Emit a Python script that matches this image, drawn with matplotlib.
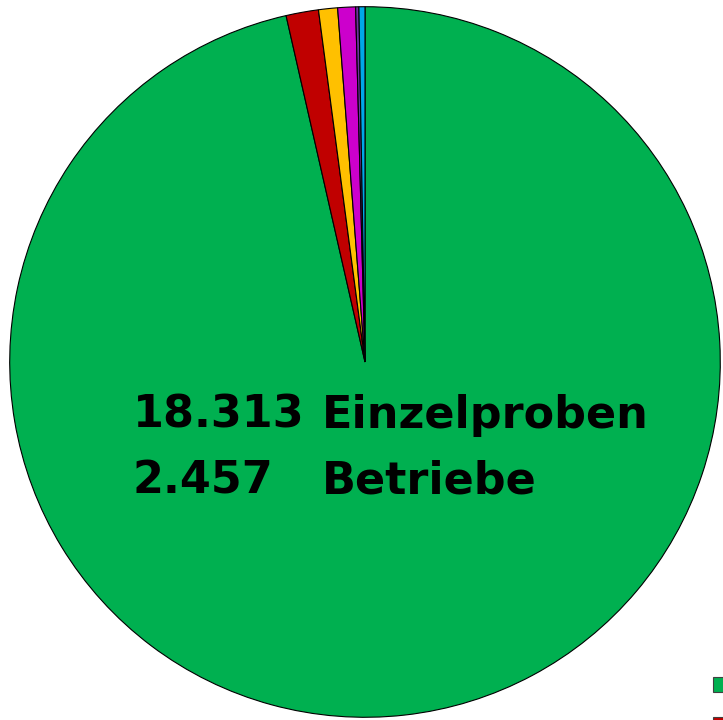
import matplotlib
matplotlib.use('Agg')
import matplotlib.pyplot as plt
import matplotlib.patches as patches

# sample counts per category
counts = [17660, 270, 158, 148, 27, 50]
colors = ['#00B050', '#C00000', '#FFC000', '#CC00CC', '#7030A0', '#00A8E8']

total_samples = '18.313'
total_farms = '2.457'

W, H = 723, 720
fig = plt.figure(figsize=(W / 100, H / 100), dpi=100)

cx, cy, r = 365, 362, 356
ax = fig.add_axes([(cx - r) / W, (H - cy - r) / H, 2 * r / W, 2 * r / H])
wedges, _ = ax.pie(counts, colors=colors, startangle=90, counterclock=False,
                   wedgeprops=dict(edgecolor='black', linewidth=0.8))
ax.set_xlim(-1.002, 1.002)
ax.set_ylim(-1.002, 1.002)
ax.set_aspect('equal')
ax.axis('off')

# centre text
fs = 32
fig.text(133 / W, 1 - 428 / H, total_samples, fontsize=fs, fontweight='bold', ha='left', va='baseline')
fig.text(322 / W, 1 - 428 / H, 'Einzelproben', fontsize=fs, fontweight='bold', ha='left', va='baseline')
fig.text(133 / W, 1 - 494 / H, total_farms, fontsize=fs, fontweight='bold', ha='left', va='baseline')
fig.text(322 / W, 1 - 494 / H, 'Betriebe', fontsize=fs, fontweight='bold', ha='left', va='baseline')

# legend keys, cut off at the right/bottom edge (labels lie outside the picture)
for i, w in enumerate(wedges[:2]):
    top = 677 + 40 * i
    fig.patches.append(patches.Rectangle(
        (713 / W, 1 - (top + 15) / H), 15 / W, 15 / H, transform=fig.transFigure,
        facecolor=w.get_facecolor(), edgecolor='#404040', linewidth=0.8))

fig.savefig('out.png', dpi=100)
